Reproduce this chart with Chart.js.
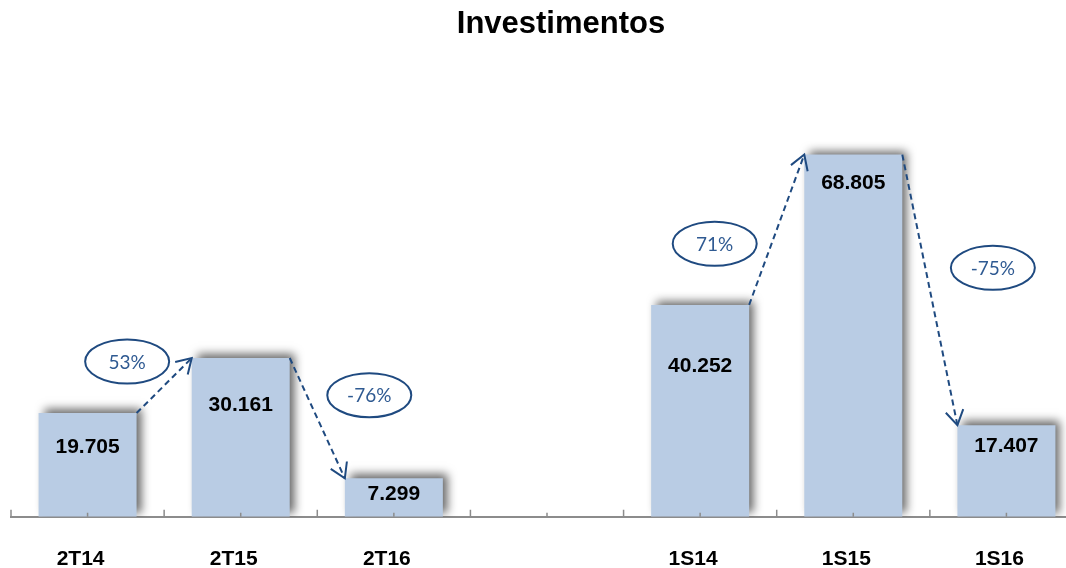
<!DOCTYPE html>
<html lang="pt">
  <head>
    <meta charset="utf-8" />
    <title>Investimentos</title>
    <style>
      * {
        margin: 0;
        padding: 0;
      }
      html,
      body {
        width: 1066px;
        height: 568px;
        overflow: hidden;
        background: #fff;
      }
      .chartBox {
        width: 1090px;
        height: 602px;
      }
    </style>
  </head>
  <body>
    <div class="chartBox">
      <canvas id="myChart"></canvas>
    </div>

    <script src="https://cdn.jsdelivr.net/npm/chart.js"></script>

    <script>
      const titleText = "Investimentos";
      const categories = ["2T14", "2T15", "2T16", "", "1S14", "1S15", "1S16"];
      const investimentos = [19705, 30161, 7299, null, 40252, 68805, 17407];
      // pairs of bars joined by a dashed arrow with the % change
      const comparisons = [
        [0, 1],
        [1, 2],
        [4, 5],
        [5, 6],
      ];

      // label placement (px), not data
      const valueLabelDy = [34, 47, 16, 0, 61, 29, 21];
      const badgeOffset = [
        [-37, -24],
        [52, -23],
        [-62, 14],
        [63, -22],
      ];

      const navy = "#1f4a80";
      const fmt = (v) => String(v).replace(/\B(?=(\d{3})+(?!\d))/g, ".");

      const barShadow = {
        id: "barShadow",
        beforeDatasetsDraw(chart) {
          const ctx = chart.ctx;
          ctx.save();
          ctx.shadowColor = "rgba(0, 0, 0, 0.6)";
          ctx.shadowBlur = 9;
          ctx.shadowOffsetX = 5;
          ctx.shadowOffsetY = -4;
        },
        afterDatasetsDraw(chart) {
          chart.ctx.restore();
        },
      };

      const annotations = {
        id: "annotations",
        afterDraw(chart) {
          const {
            ctx,
            chartArea: { bottom },
            scales: { x },
          } = chart;
          const bars = chart.getDatasetMeta(0).data;

          ctx.save();

          // tick marks pointing up from the axis
          ctx.strokeStyle = "#8c8c8c";
          ctx.lineWidth = 1.5;
          const step = x.getPixelForValue(1) - x.getPixelForValue(0);
          for (let i = 0; i < categories.length; i++) {
            const c = x.getPixelForValue(i);
            ctx.beginPath();
            ctx.moveTo(c, bottom);
            ctx.lineTo(c, bottom - 4);
            ctx.moveTo(c - step / 2, bottom);
            ctx.lineTo(c - step / 2, bottom - 7);
            ctx.stroke();
          }

          // title
          ctx.fillStyle = "#000";
          ctx.textAlign = "center";
          ctx.textBaseline = "middle";
          ctx.font = "bold 31px 'Liberation Sans', Arial, sans-serif";
          ctx.fillText(titleText, 561, 24);

          // values inside the bars
          ctx.font = "bold 21px 'Liberation Sans', Arial, sans-serif";
          bars.forEach((bar, i) => {
            if (investimentos[i] == null) return;
            ctx.fillText(fmt(investimentos[i]), bar.x, bar.y + valueLabelDy[i]);
          });

          // dashed arrows and % badges
          comparisons.forEach(([a, b], k) => {
            const A = bars[a];
            const B = bars[b];
            const x1 = A.x + A.width / 2;
            const y1 = A.y;
            const x2 = B.x - B.width / 2;
            const y2 = B.y;

            ctx.strokeStyle = navy;
            ctx.lineWidth = 2;
            ctx.setLineDash([6, 4]);
            ctx.beginPath();
            ctx.moveTo(x1, y1);
            ctx.lineTo(x2, y2);
            ctx.stroke();

            ctx.setLineDash([]);
            const ang = Math.atan2(y2 - y1, x2 - x1);
            const len = 17;
            ctx.beginPath();
            ctx.moveTo(x2 - len * Math.cos(ang - 0.55), y2 - len * Math.sin(ang - 0.55));
            ctx.lineTo(x2, y2);
            ctx.lineTo(x2 - len * Math.cos(ang + 0.55), y2 - len * Math.sin(ang + 0.55));
            ctx.stroke();

            const cx = (x1 + x2) / 2 + badgeOffset[k][0];
            const cy = (y1 + y2) / 2 + badgeOffset[k][1];
            ctx.beginPath();
            ctx.ellipse(cx, cy, 42, 22, 0, 0, Math.PI * 2);
            ctx.stroke();

            const pct = Math.round((investimentos[b] / investimentos[a] - 1) * 100);
            ctx.fillStyle = "#2f5a92";
            ctx.font = "19px Lato, 'Open Sans', sans-serif";
            ctx.fillText(pct + "%", cx, cy + 1);
          });

          ctx.restore();
        },
      };

      const config = {
        type: "bar",
        data: {
          labels: categories,
          datasets: [
            {
              label: titleText,
              data: investimentos,
              backgroundColor: "#b9cce4",
              borderWidth: 0,
              barPercentage: 0.64,
              categoryPercentage: 1,
            },
          ],
        },
        options: {
          responsive: true,
          maintainAspectRatio: false,
          animation: false,
          layout: {
            padding: { top: 43, left: 11, right: 7, bottom: 0 },
          },
          plugins: {
            legend: { display: false },
            tooltip: { enabled: false },
          },
          scales: {
            x: {
              grid: { display: false, drawTicks: false },
              border: { display: true, color: "#8c8c8c", width: 2 },
              ticks: {
                padding: 30,
                labelOffset: -7,
                color: "#000",
                font: {
                  family: "'Liberation Sans', Arial, sans-serif",
                  size: 21,
                  weight: "bold",
                },
              },
            },
            y: {
              display: false,
              min: 0,
              max: 90000,
            },
          },
        },
        plugins: [barShadow, annotations],
      };

      const myChart = new Chart(document.getElementById("myChart"), config);
    </script>
  </body>
</html>
